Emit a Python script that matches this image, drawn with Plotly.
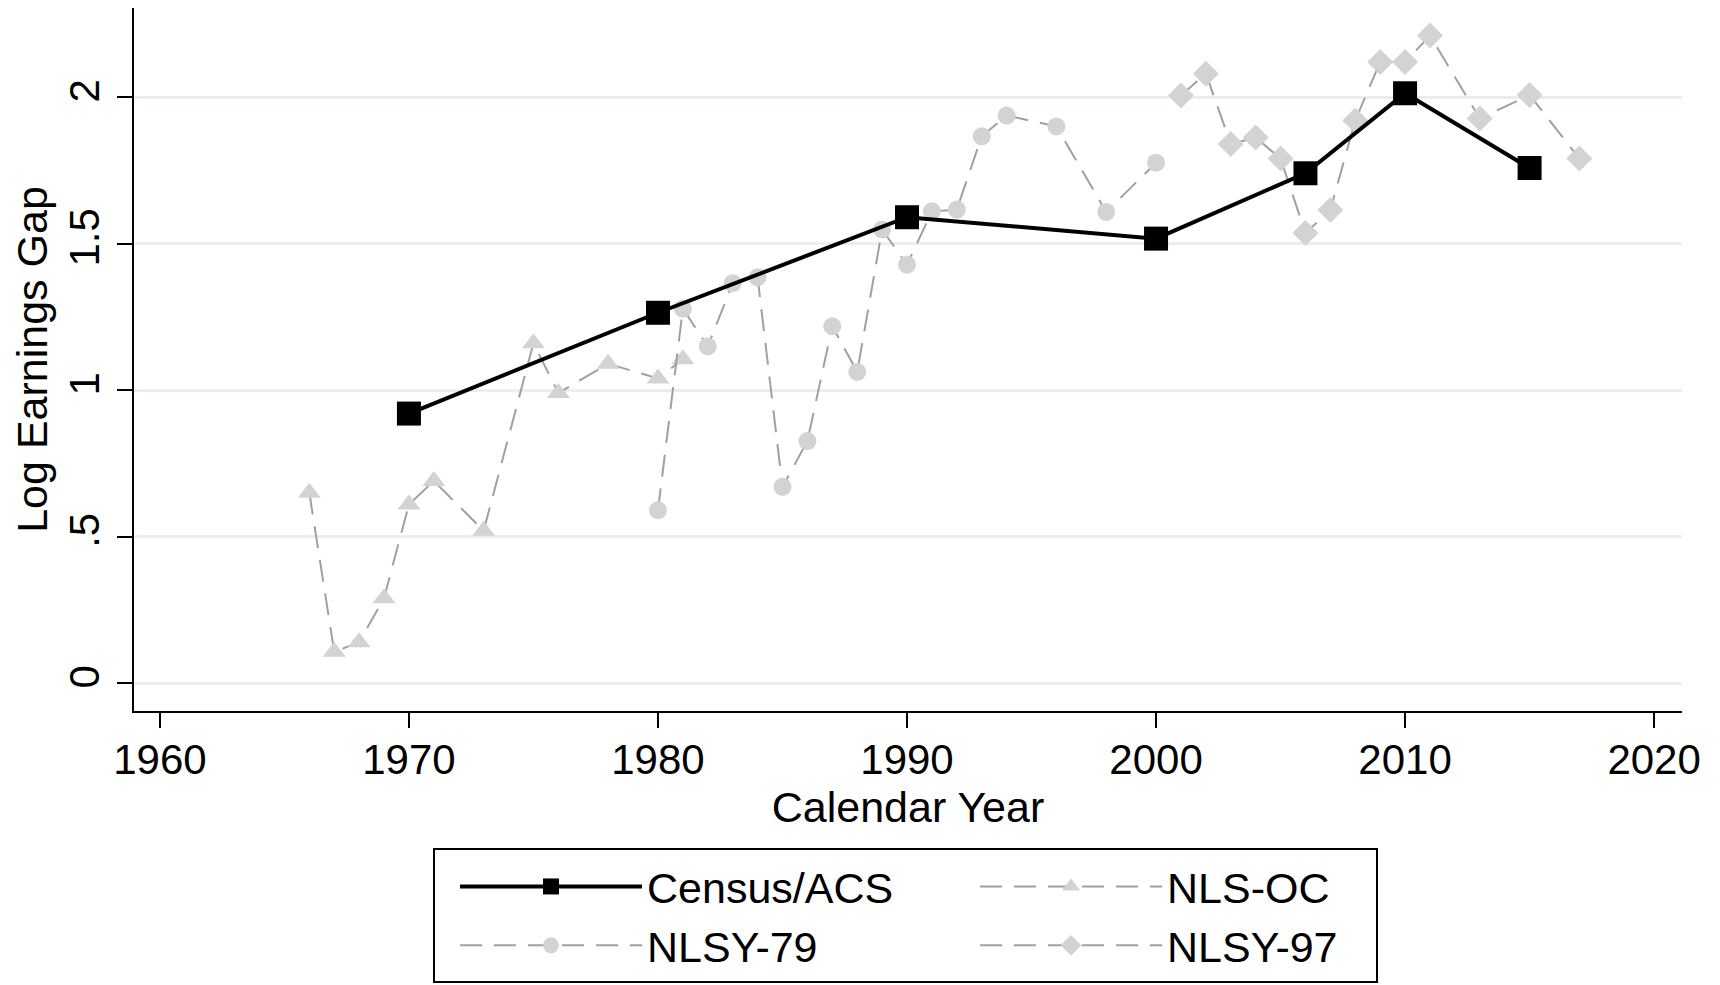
import plotly.graph_objects as go

# ---------------- data ----------------
census_years = [1970, 1980, 1990, 2000, 2006, 2010, 2015]
census_gap = [0.92, 1.264, 1.59, 1.517, 1.74, 2.013, 1.758]

nlsoc_years = [1966, 1967, 1968, 1969, 1970, 1971, 1973, 1975, 1976, 1978, 1980, 1981]
nlsoc_gap = [0.65, 0.107, 0.14, 0.29, 0.61, 0.69, 0.52, 1.16, 0.99, 1.09, 1.04, 1.105]

nlsy79_years = [1980, 1981, 1982, 1983, 1984, 1985, 1986, 1987, 1988, 1989,
                1990, 1991, 1992, 1993, 1994, 1996, 1998, 2000]
nlsy79_gap = [0.59, 1.278, 1.149, 1.365, 1.385, 0.67, 0.826, 1.218, 1.062, 1.548,
              1.428, 1.61, 1.616, 1.866, 1.937, 1.90, 1.608, 1.776]

nlsy97_years = [2001, 2002, 2003, 2004, 2005, 2006, 2007, 2008, 2009, 2010,
                2011, 2013, 2015, 2017]
nlsy97_gap = [2.005, 2.08, 1.84, 1.862, 1.79, 1.536, 1.615, 1.92, 2.12, 2.12,
              2.21, 1.927, 2.007, 1.79]

x_ticks = [1960, 1970, 1980, 1990, 2000, 2010, 2020]
y_ticks = [0, 0.5, 1, 1.5, 2]
y_ticktext = ["0", ".5", "1", "1.5", "2"]

# ---------------- style ----------------
FONT = "Liberation Sans, Arial, Helvetica, sans-serif"
FS = 42
FS_T = 43
GRAY_MARK = "#d3d3d3"
GRAY_LINE = "#a0a0a0"
DASH = "22px,12px"

# the page body adds an 8px offset; lay out in page pixels minus that offset
OFF = 8
W, H = 1720 - OFF, 985 - OFF
ML, MT = 134 - OFF, 8 - OFF
MR = W - (1682 - OFF)
MB = H - (711 - OFF)
PW, PH = W - ML - MR, H - MT - MB


def px_to_paper_x(px):
    return (px - OFF - ML) / PW


def px_to_paper_y(py):
    return (H - MB - (py - OFF)) / PH


fig = go.Figure()

fig.add_trace(go.Scatter(
    x=nlsoc_years, y=nlsoc_gap, name="NLS-OC", mode="lines+markers",
    line=dict(color=GRAY_LINE, width=2, dash=DASH),
    marker=dict(symbol="triangle-up", size=20, color=GRAY_MARK),
    legend="legend2", legendrank=1))

fig.add_trace(go.Scatter(
    x=nlsy79_years, y=nlsy79_gap, name="NLSY-79", mode="lines+markers",
    line=dict(color=GRAY_LINE, width=2, dash=DASH),
    marker=dict(symbol="circle", size=18, color=GRAY_MARK),
    legend="legend", legendrank=2))

fig.add_trace(go.Scatter(
    x=nlsy97_years, y=nlsy97_gap, name="NLSY-97", mode="lines+markers",
    line=dict(color=GRAY_LINE, width=2, dash=DASH),
    marker=dict(symbol="diamond", size=20, color=GRAY_MARK),
    legend="legend2", legendrank=2))

fig.add_trace(go.Scatter(
    x=census_years, y=census_gap, name="Census/ACS", mode="lines+markers",
    line=dict(color="black", width=4),
    marker=dict(symbol="square", size=24, color="black"),
    legend="legend", legendrank=1))

legend_common = dict(
    orientation="v", yanchor="top", xanchor="left",
    y=px_to_paper_y(852),
    bgcolor="rgba(0,0,0,0)", borderwidth=0,
    font=dict(family=FONT, size=FS_T, color="black"),
    itemwidth=182, tracegroupgap=0,
    itemclick=False, itemdoubleclick=False)

fig.update_layout(
    width=W, height=H,
    margin=dict(l=ML, r=MR, t=MT, b=MB, autoexpand=False),
    paper_bgcolor="white", plot_bgcolor="white",
    font=dict(family=FONT, size=FS, color="black"),
    showlegend=True,
    legend=dict(x=px_to_paper_x(455), **legend_common),
    legend2=dict(x=px_to_paper_x(975), **legend_common),
    xaxis=dict(
        range=[1958.96, 2021.12], tickmode="array", tickvals=x_ticks,
        ticks="outside", ticklen=15, tickwidth=2, tickcolor="black",
        ticklabelstandoff=-4,
        showline=True, linecolor="black", linewidth=2,
        showgrid=False, zeroline=False, automargin=False,
        tickfont=dict(family=FONT, size=FS, color="black"),
        title=dict(text="Calendar Year", font=dict(family=FONT, size=FS_T, color="black"), standoff=0)),
    yaxis=dict(
        range=[-0.095, 2.304], tickmode="array", tickvals=y_ticks, ticktext=y_ticktext,
        tickangle=-90, ticklabelstandoff=1,
        ticks="outside", ticklen=15, tickwidth=2, tickcolor="black",
        showline=True, linecolor="black", linewidth=2,
        showgrid=True, gridcolor="#e6eff1", gridwidth=3, zeroline=False, automargin=False,
        tickfont=dict(family=FONT, size=FS, color="black"),
        title=dict(text="Log Earnings Gap", font=dict(family=FONT, size=FS_T, color="black"), standoff=0)),
)

# legend frame
fig.add_shape(type="rect", xref="paper", yref="paper",
              x0=px_to_paper_x(434), x1=px_to_paper_x(1377),
              y0=px_to_paper_y(982), y1=px_to_paper_y(849),
              line=dict(color="black", width=2), fillcolor="rgba(0,0,0,0)", layer="above")

fig.write_html("out.html")
